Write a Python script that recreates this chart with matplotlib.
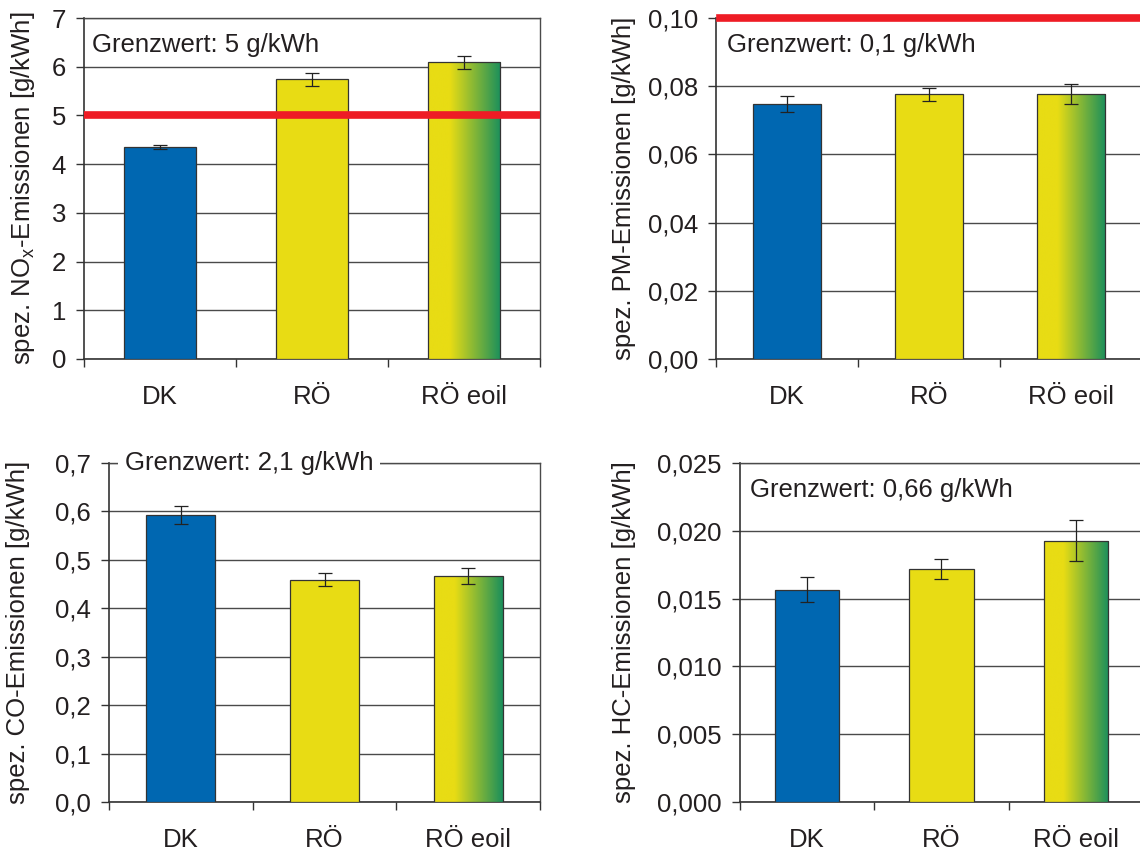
import numpy as np
import matplotlib
matplotlib.use("Agg")
import matplotlib.pyplot as plt
from matplotlib.colors import LinearSegmentedColormap

plt.rcParams['font.family'] = ['Liberation Sans', 'DejaVu Sans']

categories = ["DK", "RÖ", "RÖ eoil"]

nox = [4.35, 5.74, 6.09]
nox_err = [0.045, 0.13, 0.14]

pm = [0.0747, 0.0777, 0.0778]
pm_err = [0.0024, 0.0019, 0.0029]

co = [0.593, 0.459, 0.467]
co_err = [0.019, 0.013, 0.016]

hc = [0.01565, 0.0172, 0.01928]
hc_err = [0.00093, 0.00072, 0.0015]

limit_nox = 5.0
limit_pm = 0.10

nox_ticks = [0, 1, 2, 3, 4, 5, 6, 7]
nox_ticklabels = ["0", "1", "2", "3", "4", "5", "6", "7"]
pm_ticks = [0, 0.02, 0.04, 0.06, 0.08, 0.10]
pm_ticklabels = ["0,00", "0,02", "0,04", "0,06", "0,08", "0,10"]
co_ticks = [0, 0.1, 0.2, 0.3, 0.4, 0.5, 0.6, 0.7]
co_ticklabels = ["0,0", "0,1", "0,2", "0,3", "0,4", "0,5", "0,6", "0,7"]
hc_ticks = [0, 0.005, 0.010, 0.015, 0.020, 0.025]
hc_ticklabels = ["0,000", "0,005", "0,010", "0,015", "0,020", "0,025"]

blue = "#0067B1"
yellow = "#E8DC14"
green = "#1A8F5C"
red = "#EE1C25"
txt = "#231F20"
grid_c = "#4A4A4A"

fs = 18.5
W, H = 1140, 852
fig = plt.figure(figsize=(W / 100, H / 100), dpi=100)

grad_cmap = LinearSegmentedColormap.from_list(
    "eoil", [(0.0, yellow), (0.3, yellow), (1.0, green)])


def px_axes(left, right, top, bottom):
    return fig.add_axes([left / W, 1 - bottom / H, (right - left) / W, (bottom - top) / H])


def panel(ax, vals, errs, ticks, ticklabels, ylabel, ylabel_x):
    x = np.arange(len(vals))
    ax.yaxis.grid(True, color=grid_c, lw=1.0)
    ax.set_axisbelow(True)
    colors = [blue, yellow, "none"]
    bars = ax.bar(x, vals, width=0.48, color=colors, edgecolor="#333333",
                  linewidth=0.9, zorder=3)
    # gradient fill for the last bar
    b = bars[-1]
    grad = np.linspace(0, 1, 256).reshape(1, -1)
    im = ax.imshow(grad, cmap=grad_cmap, aspect="auto", zorder=2.9,
                   extent=[b.get_x(), b.get_x() + b.get_width(), 0, b.get_height()])
    im.set_clip_path(b)
    ax.set_xlim(-0.5, len(vals) - 0.5)
    ax.set_ylim(ticks[0], ticks[-1])
    ax.set_yticks(ticks)
    ax.set_yticklabels(ticklabels)
    ax.errorbar(x, vals, yerr=errs, fmt="none", ecolor="#222222",
                elinewidth=0.9, capsize=5, capthick=0.9, zorder=4)
    # category separators as x ticks
    ax.set_xticks(np.arange(-0.5, len(vals), 1.0))
    ax.set_xticklabels([])
    ax.set_xticks(x, minor=True)
    ax.set_xticklabels(categories, minor=True)
    ax.tick_params(axis="x", which="major", length=6, width=1, color="#333333")
    ax.tick_params(axis="x", which="minor", length=0, pad=18.5, labelsize=fs, labelcolor=txt)
    ax.tick_params(axis="y", length=6, width=1, color="#333333", pad=7,
                   labelsize=fs, labelcolor=txt)
    for s in ["left", "bottom"]:
        ax.spines[s].set_color("#333333")
        ax.spines[s].set_linewidth(1.2)
    for s in ["top", "right"]:
        ax.spines[s].set_color(grid_c)
        ax.spines[s].set_linewidth(1.0)
    ax.set_ylabel(ylabel, fontsize=fs, color=txt)
    ax.yaxis.set_label_coords(ylabel_x, 0.5)


ax1 = px_axes(84, 540, 18, 359)
panel(ax1, nox, nox_err, nox_ticks, nox_ticklabels,
      r"spez. NO$_\mathregular{x}$-Emissionen [g/kWh]", -0.103)
ax1.axhline(limit_nox, color=red, lw=5.5, zorder=3.5)
ax1.text(0.017, 0.955, "Grenzwert: 5 g/kWh", transform=ax1.transAxes,
         fontsize=fs, color=txt, va="top", ha="left")

ax2 = px_axes(716, 1142, 18, 359)
panel(ax2, pm, pm_err, pm_ticks, pm_ticklabels,
      "spez. PM-Emissionen [g/kWh]", -0.188)
ax2.axhline(limit_pm, xmin=0.01, color=red, lw=5.5, zorder=5, clip_on=False)
ax2.text(0.025, 0.955, "Grenzwert: 0,1 g/kWh", transform=ax2.transAxes,
         fontsize=fs, color=txt, va="top", ha="left")

ax3 = px_axes(109, 540, 463, 802)
panel(ax3, co, co_err, co_ticks, co_ticklabels,
      "spez. CO-Emissionen [g/kWh]", -0.183)
ax3.text(0.037, 1.0, "Grenzwert: 2,1 g/kWh", transform=ax3.transAxes,
         fontsize=fs, color=txt, va="center", ha="left", zorder=10,
         bbox=dict(facecolor="white", edgecolor="none", pad=5))

ax4 = px_axes(740, 1143, 463, 802)
panel(ax4, hc, hc_err, hc_ticks, hc_ticklabels,
      "spez. HC-Emissionen [g/kWh]", -0.258)
ax4.text(0.025, 0.955, "Grenzwert: 0,66 g/kWh", transform=ax4.transAxes,
         fontsize=fs, color=txt, va="top", ha="left")

fig.savefig("out.png", dpi=100)
